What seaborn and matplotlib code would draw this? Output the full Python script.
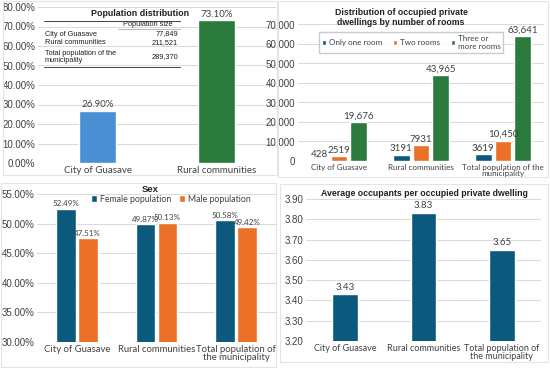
import matplotlib
matplotlib.use("Agg")
import matplotlib.pyplot as plt
from matplotlib.patches import Rectangle
from matplotlib.lines import Line2D
from matplotlib.ticker import FuncFormatter, MultipleLocator
import seaborn as sns
import pandas as pd

# ---------------- data ----------------
pop_categories = ["City of Guasave", "Rural communities"]
pop_share = [26.90, 73.10]
table_rows = ["City of Guasave", "Rural communities", "Total population of the\nmunicipality"]
table_sizes = ["77,849", "211,521", "289,370"]

rooms_groups = ["City of Guasave", "Rural communities", "Total population of the\nmunicipality"]
rooms_series = ["Only one room", "Two rooms", "Three or\nmore rooms"]
one_room = [428, 3191, 3619]
two_rooms = [2519, 7931, 10450]
three_rooms = [19676, 43965, 63641]

sex_groups = ["City of Guasave", "Rural communities", "Total population of\nthe municipality"]
sex_series = ["Female population", "Male population"]
female = [52.49, 49.87, 50.58]
male = [47.51, 50.13, 49.42]

occ_groups = ["City of Guasave", "Rural communities", "Total population of\nthe municipality"]
occupants = [3.43, 3.83, 3.65]

# ---------------- style ----------------
sns.set_theme(style="white")
plt.rcParams['font.family'] = ['Liberation Sans', 'DejaVu Sans']
NAVY = "#0B5A7D"
ORANGE = "#EA7127"
GREEN = "#2A7B3C"
LBLUE = "#4A8FD4"
GRID = "#D9D9D9"
TXT = "#404040"
CAT_FONT = ['Lato', 'DejaVu Sans']

W, H = 550, 368
fig = plt.figure(figsize=(W / 100, H / 100), dpi=100)
fig.patch.set_facecolor("white")


def px_axes(l, t, r, b):
    return fig.add_axes([l / W, 1 - b / H, (r - l) / W, (b - t) / H])


def frame(l, t, r, b):
    fig.add_artist(Rectangle((l / W, 1 - b / H), (r - l) / W, (b - t) / H,
                             transform=fig.transFigure, fill=False,
                             edgecolor="#E4E4E4", linewidth=0.8))


def style_ax(ax, ytick_size=7):
    for s in ax.spines.values():
        s.set_visible(False)
    ax.yaxis.grid(True, color=GRID, linewidth=0.7)
    ax.set_axisbelow(True)
    ax.tick_params(axis="both", length=0, pad=2)
    ax.tick_params(axis="y", labelsize=ytick_size, labelcolor=TXT)
    ax.set_xlabel("")
    ax.set_ylabel("")


def cat_labels(ax, size=6.5):
    for lab in ax.get_xticklabels():
        lab.set_fontfamily(CAT_FONT)
        lab.set_fontsize(size)
        lab.set_color(TXT)
        lab.set_linespacing(0.95)


frame(3, 1, 277, 175)
frame(278, 1, 548, 177)
frame(1, 183, 276, 367)
frame(280, 184, 548, 362)

# ---------------- panel 1 ----------------
ax1 = px_axes(38, 7, 276, 163)
df1 = pd.DataFrame({"cat": pop_categories, "val": pop_share})
sns.barplot(data=df1, x="cat", y="val", hue="cat", palette=[LBLUE, GREEN],
            width=0.31, legend=False, ax=ax1, saturation=1)
ax1.set_ylim(0, 80)
ax1.set_xlim(-0.5, 1.5)
ax1.yaxis.set_major_locator(MultipleLocator(10))
ax1.yaxis.set_major_formatter(FuncFormatter(lambda v, p: f"{v:.2f}%"))
style_ax(ax1)
cat_labels(ax1, 7)
for c, v in zip(ax1.containers, pop_share):
    ax1.bar_label(c, labels=[f"{v:.2f}%"], fontsize=7, color=TXT, padding=1,
                  fontfamily=CAT_FONT)

fig.text(140 / W, 1 - 14 / H, "Population distribution", ha="center", va="center",
         fontsize=6.4, fontweight="bold", color="#202020")
tl, tr = 44 / W, 180 / W
fig.add_artist(Line2D([tl, tr], [1 - 20.5 / H] * 2, color="#404040", lw=0.7))
fig.add_artist(Line2D([tl, tr], [1 - 67 / H] * 2, color="#404040", lw=0.7))
fig.text(173 / W, 1 - 25 / H, "Population size", ha="right", va="center",
         fontsize=5.3, color="#202020")
fig.add_artist(Line2D([118 / W, tr], [1 - 29 / H] * 2, color="#808080", lw=0.4))
row_y = [34, 43, 57]
for name, size, y in zip(table_rows, table_sizes, row_y):
    fig.text(45 / W, 1 - y / H, name, ha="left", va="center", fontsize=5.3,
             color="#202020", linespacing=1.1)
    fig.text(178 / W, 1 - y / H, size, ha="right", va="center", fontsize=5.3,
             color="#202020")

# ---------------- panel 2 ----------------
ax2 = px_axes(298, 24, 544, 161)
df2 = pd.DataFrame({
    "group": rooms_groups * 3,
    "series": sum([[s] * 3 for s in rooms_series], []),
    "val": one_room + two_rooms + three_rooms,
})
sns.barplot(data=df2, x="group", y="val", hue="series", hue_order=rooms_series,
            palette=[NAVY, ORANGE, GREEN], width=0.72, gap=0.14, ax=ax2,
            saturation=1)
ax2.set_ylim(0, 70000)
ax2.yaxis.set_major_locator(MultipleLocator(10000))
ax2.yaxis.set_major_formatter(FuncFormatter(lambda v, p: f"{int(v):,}"))
style_ax(ax2)
cat_labels(ax2, 5.8)
for c, vals in zip(ax2.containers, [one_room, two_rooms, three_rooms]):
    labs = [f"{v:,}" if v >= 10000 else str(v) for v in vals]
    ax2.bar_label(c, labels=labs, fontsize=7, color=TXT, padding=1,
                  fontfamily=CAT_FONT)
ax2.legend_.remove()
h, l = ax2.get_legend_handles_labels()
leg2 = fig.legend(h, l, loc="upper left", bbox_to_anchor=(315 / W, 1 - 28 / H),
                  ncol=3, fontsize=5.8, frameon=True, handlelength=0.55,
                  handleheight=0.55, handletextpad=0.35, columnspacing=1.3,
                  borderpad=0.35, fancybox=False, edgecolor="#BFBFBF")
for t in leg2.get_texts():
    t.set_fontfamily(CAT_FONT)
    t.set_color(TXT)
fig.text(401 / W, 1 - 17.5 / H,
         "Distribution of occupied private\ndwellings by number of rooms",
         ha="center", va="center", fontsize=6.3, fontweight="bold", color="#202020",
         linespacing=1.2)

# ---------------- panel 3 ----------------
ax3 = px_axes(37, 194, 276, 342)
df3 = pd.DataFrame({
    "group": sex_groups * 2,
    "series": [sex_series[0]] * 3 + [sex_series[1]] * 3,
    "val": female + male,
})
sns.barplot(data=df3, x="group", y="val", hue="series", hue_order=sex_series,
            palette=[NAVY, ORANGE], width=0.55, gap=0.1, ax=ax3, saturation=1)
ax3.set_ylim(30, 55)
ax3.yaxis.set_major_locator(MultipleLocator(5))
ax3.yaxis.set_major_formatter(FuncFormatter(lambda v, p: f"{v:.2f}%"))
style_ax(ax3)
cat_labels(ax3, 6.8)
for c, vals in zip(ax3.containers, [female, male]):
    ax3.bar_label(c, labels=[f"{v:.2f}%" for v in vals], fontsize=5.8, color=TXT,
                  padding=1, fontfamily=CAT_FONT)
ax3.legend_.remove()
h, l = ax3.get_legend_handles_labels()
leg3 = fig.legend(h, l, loc="center", bbox_to_anchor=(171 / W, 1 - 199 / H),
                  ncol=2, fontsize=6.3, frameon=False, handlelength=0.7,
                  handleheight=0.7, handletextpad=0.4, columnspacing=0.8,
                  borderpad=0.1)
for t in leg3.get_texts():
    t.set_fontfamily(CAT_FONT)
    t.set_color(TXT)
fig.text(150 / W, 1 - 190 / H, "Sex", ha="center", va="center", fontsize=6.8,
         fontweight="bold", color="#202020")

# ---------------- panel 4 ----------------
ax4 = px_axes(306, 199, 541, 341)
df4 = pd.DataFrame({"group": occ_groups, "val": occupants})
sns.barplot(data=df4, x="group", y="val", color=NAVY, width=0.33, ax=ax4,
            saturation=1)
ax4.set_ylim(3.2, 3.9)
ax4.yaxis.set_major_locator(MultipleLocator(0.1))
ax4.yaxis.set_major_formatter(FuncFormatter(lambda v, p: f"{v:.2f}"))
style_ax(ax4)
cat_labels(ax4, 6.5)
ax4.bar_label(ax4.containers[0], labels=[f"{v:.2f}" for v in occupants],
              fontsize=7, color=TXT, padding=2, fontfamily=CAT_FONT)
fig.text(424 / W, 1 - 193 / H, "Average occupants per occupied private dwelling",
         ha="center", va="center", fontsize=6.3, fontweight="bold", color="#202020")

fig.savefig("out.png", dpi=100, facecolor="white")
